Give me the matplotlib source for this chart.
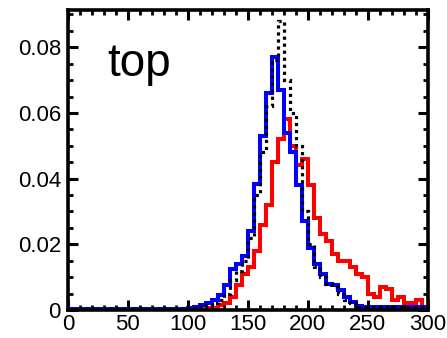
import numpy as np
import matplotlib.pyplot as plt
from matplotlib.ticker import MultipleLocator

plt.rcParams['font.family'] = ['Liberation Sans', 'DejaVu Sans']

# bin edges (width 5) from 0 to 300
edges = np.arange(0, 305, 5)

# heights per bin
low_blue = [0.0004] * 20
blue = low_blue + [0.0006, 0.001, 0.0015, 0.002, 0.003, 0.0045, 0.0075, 0.0125,
                   0.014, 0.0165, 0.024, 0.0385, 0.053, 0.066, 0.077, 0.067,
                   0.054, 0.048, 0.038, 0.027, 0.019, 0.014, 0.011, 0.008,
                   0.0075, 0.006, 0.004, 0.0025, 0.0012] + [0.0008] * 11

low_red = [0.0001] * 22
red = low_red + [0.0003, 0.0005, 0.0006, 0.0015, 0.002, 0.004, 0.0075, 0.011,
                 0.013, 0.018, 0.026, 0.032, 0.045, 0.052, 0.058, 0.050,
                 0.044, 0.046, 0.038, 0.028, 0.023, 0.021, 0.017, 0.015,
                 0.015, 0.013, 0.011, 0.010, 0.005, 0.004, 0.007, 0.0065,
                 0.003, 0.004, 0.002, 0.002, 0.003, 0.001]

low_black = [0.0003] * 20
black = low_black + [0.0005, 0.0005, 0.001, 0.0015, 0.002, 0.003, 0.005, 0.009,
                     0.012, 0.015, 0.022, 0.035, 0.048, 0.062, 0.076, 0.088,
                     0.070, 0.060, 0.050, 0.030, 0.020, 0.013, 0.010, 0.008,
                     0.007, 0.005, 0.003, 0.002] + [0.0008] * 12

fig = plt.figure(figsize=(4.47, 3.38), dpi=100)
ax = fig.add_axes([0.152, 0.083, 0.805, 0.887])

ax.stairs(red, edges, color='#ff0000', lw=2.9)
ax.stairs(blue, edges, color='#0000ff', lw=2.9)
ax.stairs(black, edges, color='black', lw=2.3, linestyle=(0, (1, 1.2)))

ax.set_xlim(0, 300)
ax.set_ylim(0, 0.0913)
ax.xaxis.set_major_locator(MultipleLocator(50))
ax.xaxis.set_minor_locator(MultipleLocator(10))
ax.yaxis.set_minor_locator(MultipleLocator(0.005))
ax.set_yticks([0, 0.02, 0.04, 0.06, 0.08])
ax.set_yticklabels(['0', '0.02', '0.04', '0.06', '0.08'])

ax.tick_params(which='both', direction='in', top=True, right=True, labelsize=16)
ax.tick_params(which='major', length=7, width=2.2, pad=5)
ax.tick_params(which='minor', length=3.5, width=2)
ax.tick_params(axis='x', which='major', pad=3)
for s in ax.spines.values():
    s.set_linewidth(2.6)

ax.text(0.11, 0.78, 'top', transform=ax.transAxes, fontsize=33)

fig.savefig('out.png', dpi=100)
